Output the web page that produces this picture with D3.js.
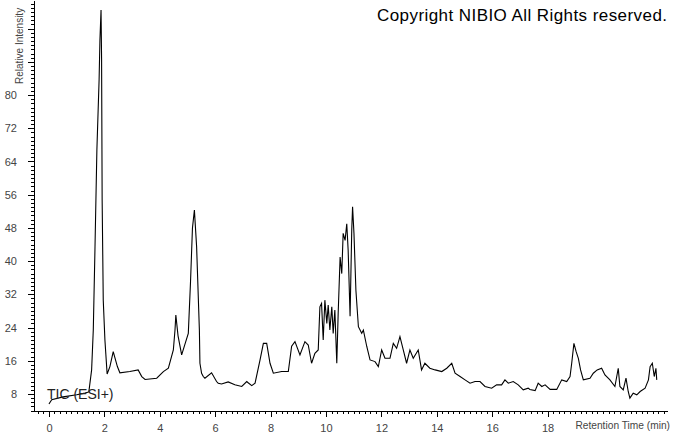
<!DOCTYPE html>
<html lang="en">
<head>
<meta charset="UTF-8">
<title>TIC (ESI+)</title>
<script src="https://d3js.org/d3.v7.min.js"></script>
<style>
  body { margin: 0; background: #fff; }
  text { font-family: "Liberation Sans", Arial, sans-serif; }
</style>
</head>
<body>
<svg id="chart" width="673" height="433"></svg>
<script>
// retention time (min) and relative intensity
const rt = [0.00, 0.10, 0.51, 1.00, 1.30, 1.44, 1.54, 1.60, 1.66, 1.73, 1.81, 1.84, 1.88, 1.90, 1.92, 1.96, 2.02, 2.10,
  2.20, 2.32, 2.47, 2.56, 2.92, 3.22, 3.35, 3.47, 3.89, 4.13, 4.31, 4.49, 4.55, 4.58, 4.66, 4.79, 4.91, 5.03,
  5.11, 5.18, 5.25, 5.33, 5.43, 5.45, 5.51, 5.57, 5.63, 5.87, 6.05, 6.11, 6.23, 6.47, 6.71, 6.96, 7.14, 7.19,
  7.32, 7.44, 7.62, 7.74, 7.86, 7.98, 8.10, 8.40, 8.64, 8.76, 8.88, 9.06, 9.24, 9.36, 9.48, 9.60, 9.72, 9.78,
  9.84, 9.90, 9.96, 10.03, 10.08, 10.14, 10.21, 10.26, 10.32, 10.39, 10.44, 10.51, 10.57, 10.62, 10.69, 10.75,
  10.80, 10.87, 10.93, 10.96, 11.01, 11.08, 11.17, 11.29, 11.35, 11.47, 11.59, 11.77, 11.89, 12.01, 12.13,
  12.31, 12.43, 12.55, 12.67, 12.79, 12.91, 13.03, 13.15, 13.33, 13.45, 13.57, 13.75, 13.94, 14.18, 14.36,
  14.54, 14.66, 14.84, 15.02, 15.20, 15.38, 15.56, 15.74, 15.98, 16.16, 16.34, 16.46, 16.58, 16.76, 16.94,
  17.12, 17.30, 17.36, 17.55, 17.66, 17.79, 17.91, 18.09, 18.33, 18.51, 18.69, 18.81, 18.87, 18.95, 19.03,
  19.11, 19.19, 19.29, 19.53, 19.65, 19.79, 19.95, 20.07, 20.25, 20.43, 20.55, 20.61, 20.73, 20.83, 20.91,
  20.97, 21.09, 21.22, 21.34, 21.52, 21.64, 21.70, 21.78, 21.85, 21.91, 21.94];
const intensity = [5.6, 6.6, 7.3, 7.8, 8.2, 8.5, 13.8, 23.4, 42.7, 66.8, 83.7, 93.3, 100.5, 88.5, 54.7, 30.6, 21.0, 12.8,
  14.6, 18.2, 14.6, 13.1, 13.4, 13.8, 12.2, 11.5, 11.8, 13.4, 14.2, 18.6, 23.4, 27.0, 22.0, 17.4, 20.0, 22.6,
  35.0, 48.0, 52.3, 43.5, 23.4, 15.4, 13.0, 12.2, 11.8, 13.1, 11.0, 10.6, 10.4, 10.9, 10.2, 9.8, 11.0, 10.7,
  10.0, 10.6, 16.2, 20.2, 20.2, 15.4, 13.0, 13.4, 13.4, 19.5, 20.6, 17.4, 20.6, 19.8, 15.4, 17.8, 18.6, 29.0,
  29.8, 21.0, 30.6, 25.0, 29.4, 23.4, 29.0, 22.6, 28.2, 15.4, 27.4, 41.0, 37.0, 46.7, 45.0, 49.0,
  42.7, 26.7, 47.5, 53.1, 46.7, 33.0, 24.2, 22.6, 23.4, 19.5, 16.2, 15.8, 14.6, 18.6, 16.6,
  16.6, 20.2, 19.0, 21.8, 18.6, 15.4, 18.6, 16.6, 18.6, 13.8, 15.4, 14.2, 13.8, 13.4, 14.2,
  15.4, 13.0, 12.2, 11.4, 10.6, 11.0, 11.0, 9.8, 9.4, 10.2, 10.2, 11.4, 10.6, 11.0, 10.2,
  9.0, 9.4, 9.1, 8.8, 10.6, 9.8, 10.2, 9.1, 9.1, 11.4, 11.0, 12.2, 15.4, 20.2, 18.2,
  16.6, 13.8, 11.4, 11.8, 13.0, 13.8, 14.2, 12.6, 11.4, 9.8, 14.2, 9.8, 9.0, 11.8, 8.6,
  7.0, 8.2, 7.8, 8.6, 9.4, 11.4, 14.6, 15.4, 12.2, 14.2, 11.4];

const xTicks = [0, 2, 4, 6, 8, 10, 12, 14, 16, 18];
const yTicks = [8, 16, 24, 32, 40, 48, 56, 64, 72, 80];
const yMajorUnlabeled = [88, 96];

const svg = d3.select("#chart");

const x = d3.scaleLinear().domain([-0.54, 22.31]).range([34, 667]);
const y = d3.scaleLinear().domain([3.9, 102.9]).range([411, 0]);

const xMinor = d3.range(-0.4, 22.3, 0.2);
const yMinor = d3.range(4, 103, 1);

// minor ticks
svg.append("g").attr("transform", "translate(0,411)")
  .call(d3.axisBottom(x).tickValues(xMinor).tickSize(3).tickSizeOuter(0).tickFormat(""));
svg.append("g").attr("transform", "translate(34,0)")
  .call(d3.axisLeft(y).tickValues(yMinor).tickSize(3).tickSizeOuter(0).tickFormat(""));

// major ticks with labels
svg.append("g").attr("transform", "translate(0,411)")
  .call(d3.axisBottom(x).tickValues(xTicks).tickSize(6).tickPadding(7).tickSizeOuter(0).tickFormat(d3.format("d")));
svg.append("g").attr("transform", "translate(34,0)")
  .call(d3.axisLeft(y).tickValues(yTicks).tickSize(6).tickPadding(11).tickSizeOuter(0).tickFormat(d3.format("d")));
svg.append("g").attr("transform", "translate(34,0)")
  .call(d3.axisLeft(y).tickValues(yMajorUnlabeled).tickSize(6).tickSizeOuter(0).tickFormat(""))
  .select(".domain").remove();

svg.selectAll(".tick text").attr("font-size", 11).attr("fill", "#444")
  .style("font-family", '"Liberation Sans", Arial, sans-serif');
svg.selectAll(".tick line, .domain").attr("stroke", "#000").attr("shape-rendering", "crispEdges");

// trace
const line = d3.line().x((d, i) => x(rt[i])).y(d => y(d));
svg.append("path")
  .datum(intensity)
  .attr("d", line)
  .attr("fill", "none")
  .attr("stroke", "#000")
  .attr("stroke-width", 1.1);

// labels
svg.append("text").attr("x", 670).attr("y", 429).attr("text-anchor", "end")
  .attr("font-size", 10.2).attr("fill", "#444")
  .text("Retention Time (min)");
svg.append("text").attr("transform", "translate(23,84) rotate(-90)")
  .attr("font-size", 10).attr("fill", "#444")
  .text("Relative Intensity");
svg.append("text").attr("x", 377).attr("y", 21)
  .attr("font-size", 17).attr("fill", "#000")
  .attr("textLength", 290).attr("lengthAdjust", "spacing")
  .text("Copyright NIBIO All Rights reserved.");
svg.append("text").attr("x", 47).attr("y", 399)
  .attr("font-size", 14).attr("fill", "#222").text("TIC (ESI+)");
</script>
</body>
</html>
